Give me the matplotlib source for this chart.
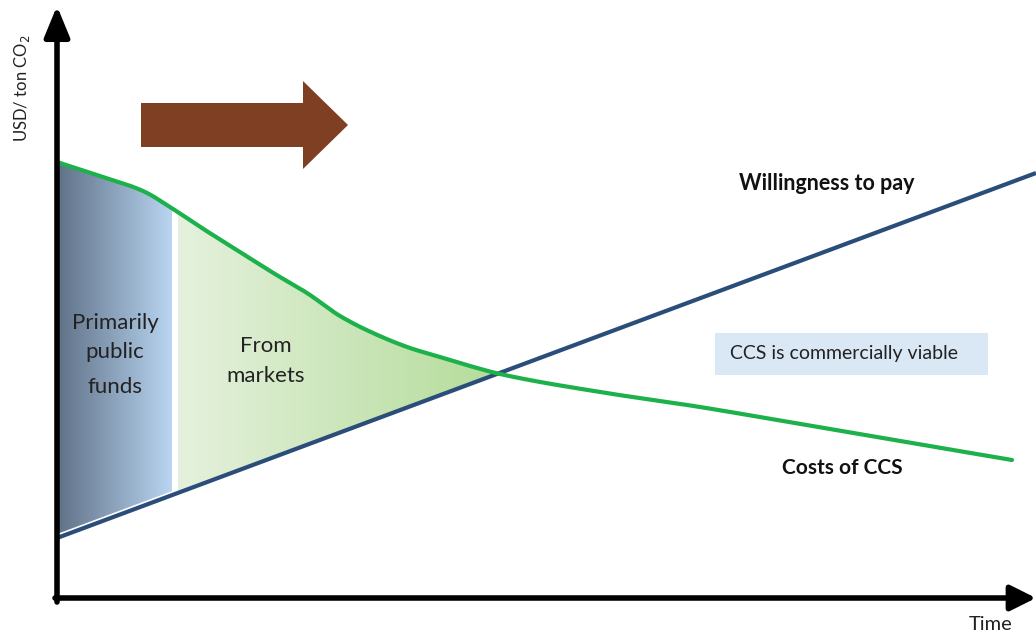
import numpy as np
import matplotlib
matplotlib.use("Agg")
import matplotlib.pyplot as plt
from matplotlib.patches import Polygon, Rectangle
from matplotlib.colors import LinearSegmentedColormap

plt.rcParams['font.family'] = ['Lato', 'DejaVu Sans']

# ---- data (conceptual units: time vs USD/ton CO2) ----
wtp_time = [0, 979]
wtp_value = [60, 425]

cost_time = [0, 43, 86, 116, 148, 183, 218, 250, 283, 316, 353, 383, 413, 443,
             543, 643, 743, 843, 955]
cost_value = [436, 422, 407, 389, 368, 346, 324, 305, 282, 265, 250, 241, 232, 224,
              206, 191, 174, 157, 138]

public_end = 115      # end of "primarily public funds" phase
market_start = 121    # start of "from markets" phase
crossover = 443       # costs == willingness to pay

labels = {
    "ylabel": "USD/ ton CO$_2$",
    "xlabel": "Time",
    "wtp": "Willingness to pay",
    "cost": "Costs of CCS",
    "viable": "CCS is commercially viable",
    "public": ["Primarily", "public", "funds"],
    "market": ["From", "markets"],
}

fig = plt.figure(figsize=(10.36, 6.36), dpi=100)
ax = fig.add_axes([0, 0, 1, 1])
ax.set_xlim(-57, 979)
ax.set_ylim(-38, 598)
ax.axis('off')


def pchip(x, y, xn):
    """Monotone cubic (Fritsch-Carlson) curve through the given points, for smooth drawing."""
    x = np.asarray(x, float); y = np.asarray(y, float)
    h = np.diff(x); d = np.diff(y) / h
    m = np.zeros_like(y)
    for k in range(1, len(x) - 1):
        if d[k - 1] * d[k] > 0:
            w1 = 2 * h[k] + h[k - 1]; w2 = h[k] + 2 * h[k - 1]
            m[k] = (w1 + w2) / (w1 / d[k - 1] + w2 / d[k])
    m[0] = d[0]; m[-1] = d[-1]
    xn = np.asarray(xn, float)
    idx = np.clip(np.searchsorted(x, xn) - 1, 0, len(x) - 2)
    t = (xn - x[idx]) / h[idx]
    h00 = 2 * t**3 - 3 * t**2 + 1; h10 = t**3 - 2 * t**2 + t
    h01 = -2 * t**3 + 3 * t**2; h11 = t**3 - t**2
    return h00 * y[idx] + h10 * h[idx] * m[idx] + h01 * y[idx + 1] + h11 * h[idx] * m[idx + 1]


def wtp_at(t):
    return np.interp(t, wtp_time, wtp_value)


def cost_at(t):
    return pchip(cost_time, cost_value, t)


def region(t0, t1, gap=0):
    ts = np.linspace(t0, t1, 300)
    top = cost_at(ts)
    bot = wtp_at(ts) + gap
    xs = np.concatenate([ts, ts[::-1]])
    ys = np.concatenate([top, bot[::-1]])
    return np.column_stack([xs, ys])


def gradient_fill(poly_xy, c0, c1):
    cmap = LinearSegmentedColormap.from_list('g', [c0, c1])
    x0, x1 = poly_xy[:, 0].min(), poly_xy[:, 0].max()
    y0, y1 = poly_xy[:, 1].min(), poly_xy[:, 1].max()
    grad = np.linspace(0, 1, 256).reshape(1, -1)
    im = ax.imshow(grad, extent=[x0, x1, y0, y1], aspect='auto', cmap=cmap,
                   origin='lower', zorder=1, interpolation='bilinear')
    patch = Polygon(poly_xy, closed=True, transform=ax.transData,
                    facecolor='none', edgecolor='none')
    ax.add_patch(patch)
    im.set_clip_path(patch)


gradient_fill(region(0, public_end, gap=4), '#5f7187', '#b9d5f1')
gradient_fill(region(market_start, crossover), '#e5f1dd', '#b4dc9a')

# lines
ax.plot(wtp_time, wtp_value, color='#2b4d79', lw=3, zorder=3, solid_capstyle='butt')
ts_fine = np.linspace(cost_time[0], cost_time[-1], 800)
ax.plot(ts_fine, cost_at(ts_fine), color='#1db14b', lw=3, zorder=3,
        solid_capstyle='round', solid_joinstyle='round')

# axes with arrows
ax.annotate('', xy=(0, 592), xytext=(0, -4),
            arrowprops=dict(arrowstyle='-|>,head_width=0.35,head_length=0.85',
                            lw=4, color='black', mutation_scale=22,
                            shrinkA=0, shrinkB=0), zorder=5)
ax.annotate('', xy=(979, 0), xytext=(-2, 0),
            arrowprops=dict(arrowstyle='-|>,head_width=0.35,head_length=0.7',
                            lw=4, color='black', mutation_scale=22,
                            shrinkA=0, shrinkB=0), zorder=5)

# brown progress arrow
arrow_poly = np.array([[84, 495], [246, 495], [246, 517], [291, 473],
                       [246, 429], [246, 451], [84, 451]])
ax.add_patch(Polygon(arrow_poly, closed=True, facecolor='#7f3f22',
                     edgecolor='none', zorder=4))

# texts
ax.text(-35, 510, labels["ylabel"], rotation=90, ha='center', va='center',
        fontsize=12, color='#222222')
ax.text(934, -27, labels["xlabel"], ha='center', va='center', fontsize=14.5,
        color='#222222')
ax.text(770, 415, labels["wtp"], ha='center', va='center', fontsize=15.5,
        fontweight='bold', color='#111111')
ax.text(785, 130, labels["cost"], ha='center', va='center', fontsize=15,
        fontweight='bold', color='#111111')
ax.add_patch(Rectangle((658, 223), 273, 42, facecolor='#dae7f4', edgecolor='none', zorder=2))
ax.text(787, 244, labels["viable"], ha='center', va='center', fontsize=14,
        color='#222222', zorder=3)

for s, py in zip(labels["public"], [323, 352, 387]):
    ax.text(58, 598 - py, s, ha='center', va='center', fontsize=16, color='#222222', zorder=6)
for s, py in zip(labels["market"], [346, 376]):
    ax.text(209, 598 - py, s, ha='center', va='center', fontsize=16, color='#222222', zorder=6)

fig.savefig('out.png', dpi=100)
